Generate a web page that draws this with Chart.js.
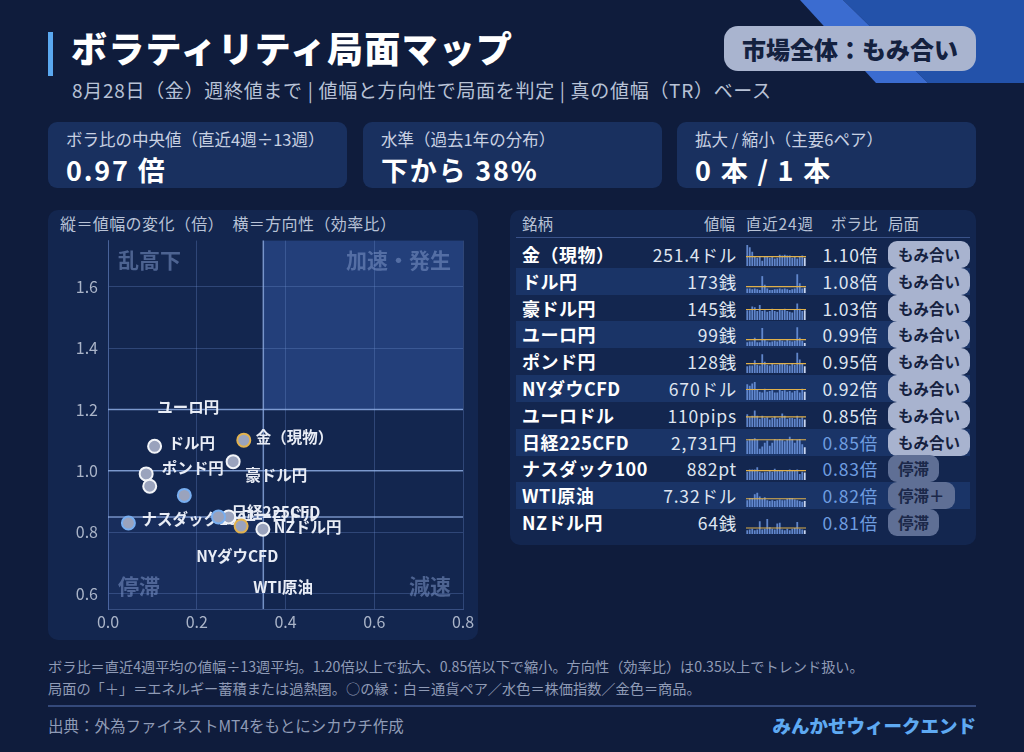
<!DOCTYPE html>
<html lang="ja">
<head>
<meta charset="utf-8">
<script src="https://cdn.jsdelivr.net/npm/chart.js@4.4.1/dist/chart.umd.min.js"></script>
<style>
  * { margin: 0; padding: 0; box-sizing: border-box; }
  body { width: 1024px; height: 752px; overflow: hidden; background: #0f1c3c; color: #fff;
         font-family: 'Noto Sans CJK JP', 'Noto Sans', sans-serif; position: relative; }
  .abs { position: absolute; }
  .title { left: 71px; top: 21px; font-size: 36px; font-weight: 900; letter-spacing: 1.2px; line-height: 52px; }
  .accent { left: 48px; top: 32px; width: 5px; height: 44px; background: #5aa8f0; }
  .sub { left: 72px; top: 77px; font-size: 19px; color: #b8c2d6; line-height: 26px; letter-spacing: 0.7px; }
  .badge-top { left: 724px; top: 26px; width: 252px; height: 45px; border-radius: 14px; background: #a9b4cf;
               color: #14213f; font-size: 24px; font-weight: 900; text-align: center; line-height: 45px; }
  .card { top: 122px; height: 66px; width: 299px; background: #19305f; border-radius: 9px; }
  .card .lab { position: absolute; left: 18px; top: 5px; font-size: 16.5px; color: #c8d0e2; }
  .card .val { position: absolute; left: 18px; top: 28px; font-size: 27px; font-weight: 700; letter-spacing: 1.8px; }
  .panel { background: #13264f; border-radius: 10px; }
  .ptitle { left: 60px; top: 211px; font-size: 16px; color: #b8c2d6; letter-spacing: 0.4px; }
  .th { top: 212px; font-size: 15.5px; color: #b8c2d6; }
  .row { left: 516px; width: 454px; height: 27px; }
  .row.alt { background: #1a3467; }
  .name { position: absolute; left: 6px; top: 0; line-height: 27px; font-size: 18px; font-weight: 700; letter-spacing: 0.5px; }
  .rng { position: absolute; right: 233px; top: 0; line-height: 27px; font-size: 17.5px; color: #dfe5f0; letter-spacing: 0.8px; }
  .ratio { position: absolute; right: 92px; top: 0; line-height: 27px; font-size: 17.5px; color: #dfe5f0; letter-spacing: 0.8px; }
  .ratio.low { color: #6f9de0; }
  .phase { position: absolute; left: 372px; top: 0; height: 27px; line-height: 27px; border-radius: 9px;
           padding: 0 10px; font-size: 15.5px; font-weight: 700; color: #15213f; background: #a8b3cf; }
  .phase.dim { background: #5f6f95; color: #1b2849; }
  .spark { position: absolute; left: 230px; top: 4px; }
  .foot { left: 48px; font-size: 14.2px; color: #8f9bb6; }
  .rule { left: 48px; top: 705px; width: 928px; height: 2px; background: #34497a; }
  .brand { right: 48px; top: 712px; font-size: 18.5px; font-weight: 900; color: #5ea9f2; }
</style>
</head>
<body>
<svg class="abs" style="left:0;top:0" width="1024" height="100">
  <polygon points="843,0 1024,0 1024,83 928,83" fill="#2352aa"/>
  <polygon points="800,0 843,0 928,83 876,83" fill="#3b6cd0"/>
</svg>
<div class="abs accent"></div>
<div class="abs title">ボラティリティ局面マップ</div>
<div class="abs sub">8月28日（金）週終値まで | 値幅と方向性で局面を判定 | 真の値幅（TR）ベース</div>
<div class="abs badge-top">市場全体：もみ合い</div>

<div class="abs card" style="left:48px"><div class="lab">ボラ比の中央値（直近4週÷13週）</div><div class="val">0.97 倍</div></div>
<div class="abs card" style="left:363px"><div class="lab">水準（過去1年の分布）</div><div class="val">下から 38%</div></div>
<div class="abs card" style="left:677px"><div class="lab">拡大 / 縮小（主要6ペア）</div><div class="val">0 本 / 1 本</div></div>

<div class="abs panel" style="left:48px;top:210px;width:430px;height:430px"></div>
<div class="abs ptitle">縦＝値幅の変化（倍）　横＝方向性（効率比）</div>
<canvas id="map" class="abs" style="left:48px;top:221px" width="432" height="415"></canvas>

<div class="abs panel" style="left:510px;top:210px;width:466px;height:335px"></div>
<div class="abs th" style="left:522px">銘柄</div>
<div class="abs th" style="left:704px">値幅</div>
<div class="abs th" style="left:746px;letter-spacing:0.8px">直近24週</div>
<div class="abs th" style="left:831px">ボラ比</div>
<div class="abs th" style="left:888px">局面</div>
<div class="abs" style="left:516px;top:237px;width:454px;height:1px;background:#3a5288"></div>
<div id="rows"></div>

<div class="abs foot" style="top:656px">ボラ比＝直近4週平均の値幅÷13週平均。1.20倍以上で拡大、0.85倍以下で縮小。方向性（効率比）は0.35以上でトレンド扱い。</div>
<div class="abs foot" style="top:678px">局面の「＋」＝エネルギー蓄積または過熱圏。○の縁：白＝通貨ペア／水色＝株価指数／金色＝商品。</div>
<div class="abs rule"></div>
<div class="abs foot" style="top:714px;font-size:15.5px">出典：外為ファイネストMT4をもとにシカウチ作成</div>
<div class="abs brand">みんかせウィークエンド</div>

<script>
const FONT = "'Noto Sans CJK JP', 'Noto Sans', sans-serif";

// scatter map
const names = ['金（現物）', 'ドル円', '豪ドル円', 'ユーロ円', 'ポンド円', 'NYダウCFD', 'ユーロドル', '日経225CFD', 'ナスダック100', 'WTI原油', 'NZドル円'];
const direction = [0.306, 0.105, 0.282, 0.086, 0.094, 0.172, 0.272, 0.249, 0.046, 0.300, 0.349];
const volRatio = [1.10, 1.08, 1.03, 0.99, 0.95, 0.92, 0.85, 0.85, 0.83, 0.82, 0.81];
const kind = ['goods', 'fx', 'fx', 'fx', 'fx', 'index', 'fx', 'index', 'index', 'goods', 'fx'];
const xTicks = [0.0, 0.2, 0.4, 0.6, 0.8];
const yTicks = [0.6, 0.8, 1.0, 1.2, 1.4, 1.6];
const expandLine = 1.20, shrinkLine = 0.85, flatLine = 1.0, trendLine = 0.35;

// table
const rangeText = ['251.4ドル', '173銭', '145銭', '99銭', '128銭', '670ドル', '110pips', '2,731円', '882pt', '7.32ドル', '64銭'];
const ratioText = ['1.10倍', '1.08倍', '1.03倍', '0.99倍', '0.95倍', '0.92倍', '0.85倍', '0.85倍', '0.83倍', '0.82倍', '0.81倍'];
const shrinking = [false, false, false, false, false, false, false, true, true, true, true];
const phase = ['もみ合い', 'もみ合い', 'もみ合い', 'もみ合い', 'もみ合い', 'もみ合い', 'もみ合い', 'もみ合い', '停滞', '停滞＋', '停滞'];

// 24-week range bars per row (relative), yellow line = 13w average
const sparkGold   = [56, 50, 38, 26, 22, 26, 14, 24, 26, 22, 24, 20, 22, 30, 28, 30, 28, 28, 22, 24, 20, 26, 28, 22];
const sparkUsdJpy = [12, 12, 10, 12, 10, 8, 45, 22, 12, 8, 8, 10, 10, 12, 10, 12, 10, 8, 10, 12, 50, 26, 12, 14];
const sparkAudJpy = [26, 26, 36, 34, 24, 40, 24, 26, 22, 24, 30, 24, 22, 28, 26, 30, 24, 22, 20, 28, 44, 30, 24, 26];
const sparkEurJpy = [10, 12, 12, 22, 10, 10, 48, 16, 12, 10, 12, 14, 12, 16, 14, 12, 16, 14, 12, 14, 50, 22, 14, 8];
const sparkGbpJpy = [18, 20, 20, 34, 22, 20, 50, 30, 22, 20, 24, 22, 22, 26, 24, 24, 22, 20, 24, 22, 54, 36, 26, 18];
const sparkDow    = [42, 38, 44, 48, 28, 22, 20, 30, 22, 24, 26, 20, 20, 28, 24, 26, 22, 24, 20, 24, 26, 20, 30, 22];
const sparkEurUsd = [34, 26, 30, 44, 30, 22, 30, 24, 26, 20, 24, 28, 22, 24, 36, 30, 22, 24, 24, 22, 30, 22, 26, 20];
const sparkNikkei = [36, 40, 40, 42, 38, 14, 20, 30, 36, 22, 30, 40, 38, 40, 38, 34, 38, 46, 40, 30, 38, 40, 26, 18];
const sparkNasdaq = [22, 28, 28, 28, 34, 22, 20, 22, 22, 26, 22, 30, 26, 24, 24, 22, 26, 28, 24, 26, 28, 16, 22, 20];
const sparkWti    = [18, 24, 24, 34, 38, 28, 22, 26, 18, 16, 18, 16, 18, 20, 18, 18, 22, 24, 24, 20, 18, 16, 14, 16];
const sparkNzdJpy = [10, 12, 14, 10, 12, 34, 12, 14, 40, 18, 14, 12, 28, 30, 12, 10, 14, 10, 14, 16, 32, 14, 12, 10];
const sparkAvg = [25, 17, 28, 17, 25, 28, 27, 38, 25, 22, 16];

const sparks = [sparkGold, sparkUsdJpy, sparkAudJpy, sparkEurJpy, sparkGbpJpy, sparkDow, sparkEurUsd, sparkNikkei, sparkNasdaq, sparkWti, sparkNzdJpy];
const borderOf = { fx: '#f2f4f8', index: '#78aef0', goods: '#e2b24e' };
// label placement relative to point (px): [dx to left edge, dy to centre]
const labelOffset = [[12, -3], [14, -3], [12, 13], [11, -67], [12, -18], [12, 61], [12, -2], [13, -5], [13, -4], [12, 61], [11, -2]];

const mapPlugin = {
  id: 'mapDecor',
  beforeDraw(chart) {
    const { ctx, chartArea: a, scales: { x, y } } = chart;
    ctx.save();
    ctx.fillStyle = 'rgba(55,95,175,0.45)';
    ctx.fillRect(x.getPixelForValue(trendLine), a.top, a.right - x.getPixelForValue(trendLine), y.getPixelForValue(expandLine) - a.top);
    ctx.fillStyle = 'rgba(55,95,175,0.14)';
    ctx.fillRect(a.left, y.getPixelForValue(shrinkLine), x.getPixelForValue(trendLine) - a.left, a.bottom - y.getPixelForValue(shrinkLine));
    ctx.font = '700 21px ' + FONT;
    ctx.fillStyle = 'rgba(125,150,200,0.55)';
    ctx.textBaseline = 'middle';
    ctx.textAlign = 'left';
    ctx.fillText('乱高下', a.left + 10, a.top + 19);
    ctx.fillText('停滞', a.left + 10, a.bottom - 23);
    ctx.textAlign = 'right';
    ctx.fillText('加速・発生', a.right - 12, a.top + 19);
    ctx.fillText('減速', a.right - 12, a.bottom - 23);
    ctx.restore();
  },
  beforeDatasetsDraw(chart) {
    const { ctx, chartArea: a, scales: { x, y } } = chart;
    ctx.save();
    ctx.strokeStyle = 'rgba(150,180,235,0.75)';
    ctx.lineWidth = 1.5;
    [expandLine, flatLine, shrinkLine].forEach(v => {
      const py = y.getPixelForValue(v);
      ctx.beginPath(); ctx.moveTo(a.left, py); ctx.lineTo(a.right, py); ctx.stroke();
    });
    const px = x.getPixelForValue(trendLine);
    ctx.beginPath(); ctx.moveTo(px, a.top); ctx.lineTo(px, a.bottom); ctx.stroke();

    ctx.font = '700 15.5px ' + FONT;
    ctx.textAlign = 'left';
    ctx.textBaseline = 'middle';
    ctx.fillStyle = '#e9edf6';
    names.forEach((n, i) => {
      const lx = x.getPixelForValue(direction[i]) + labelOffset[i][0];
      const ly = y.getPixelForValue(volRatio[i]) + labelOffset[i][1];
      ctx.fillText(n, lx, ly);
    });
    ctx.restore();
  }
};

new Chart(document.getElementById('map'), {
  type: 'scatter',
  data: {
    datasets: [{
      data: names.map((n, i) => ({ x: direction[i], y: volRatio[i] })),
      backgroundColor: '#9aa3bd',
      borderColor: kind.map(k => borderOf[k]),
      borderWidth: 2,
      pointRadius: 6.5
    }]
  },
  options: {
    responsive: false,
    animation: false,
    layout: { padding: { top: 6, right: 17, left: 0, bottom: 0 } },
    plugins: { legend: { display: false }, tooltip: { enabled: false } },
    scales: {
      x: {
        min: 0, max: 0.8,
        afterBuildTicks: s => { s.ticks = xTicks.map(v => ({ value: v })); },
        afterFit: s => { s.height = 27; },
        ticks: { color: '#aab4c8', font: { family: FONT, size: 16 }, padding: 3, callback: v => v.toFixed(1) },
        grid: { color: 'rgba(110,140,205,0.32)', drawTicks: false },
        border: { color: 'rgba(110,140,205,0.4)' }
      },
      y: {
        min: 0.55, max: 1.75,
        afterBuildTicks: s => { s.ticks = yTicks.map(v => ({ value: v })); },
        afterFit: s => { s.width = 60; },
        ticks: { color: '#aab4c8', font: { family: FONT, size: 16 }, padding: 10, callback: v => v.toFixed(1) },
        grid: { color: 'rgba(110,140,205,0.32)', drawTicks: false },
        border: { color: 'rgba(110,140,205,0.4)' }
      }
    }
  },
  plugins: [mapPlugin]
});

// table rows
const rowsDiv = document.getElementById('rows');
const avgLine = {
  id: 'avgLine',
  afterDatasetsDraw(chart) {
    const { ctx, chartArea: a, scales: { y } } = chart;
    const py = y.getPixelForValue(chart.options.plugins.avgLine.value);
    ctx.save();
    ctx.strokeStyle = '#e0b04a';
    ctx.lineWidth = 1.2;
    ctx.beginPath(); ctx.moveTo(a.left, py); ctx.lineTo(a.right, py); ctx.stroke();
    ctx.restore();
  }
};

names.forEach((n, i) => {
  const el = document.createElement('div');
  el.className = 'abs row' + (i % 2 === 1 ? ' alt' : '');
  el.style.top = (241 + i * 26.8) + 'px';
  el.innerHTML = `
    <div class="name">${n}</div>
    <div class="rng">${rangeText[i]}</div>
    <canvas class="spark" width="60" height="21"></canvas>
    <div class="ratio${shrinking[i] ? ' low' : ''}">${ratioText[i]}</div>
    <div class="phase${phase[i] === 'もみ合い' ? '' : ' dim'}">${phase[i]}</div>
  `;
  rowsDiv.appendChild(el);

  const vals = sparks[i];
  new Chart(el.querySelector('canvas'), {
    type: 'bar',
    data: {
      labels: vals.map((v, k) => k),
      datasets: [{
        data: vals,
        backgroundColor: vals.map((v, k) => k === vals.length - 1 ? '#c9d6f0' : 'rgba(110,150,225,0.85)'),
        categoryPercentage: 1,
        barPercentage: 0.72
      }]
    },
    options: {
      responsive: false,
      animation: false,
      layout: { padding: 0 },
      plugins: { legend: { display: false }, tooltip: { enabled: false }, avgLine: { value: sparkAvg[i] } },
      scales: {
        x: { display: false },
        y: { display: false, min: 0, max: 56 }
      }
    },
    plugins: [avgLine]
  });
});
</script>
</body>
</html>
